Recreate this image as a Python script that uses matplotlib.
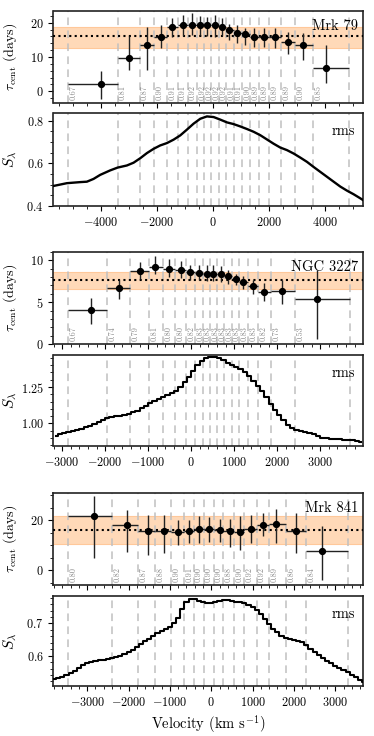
import numpy as np
import matplotlib
matplotlib.use("Agg")
import matplotlib.pyplot as plt
from matplotlib.ticker import AutoMinorLocator, MultipleLocator, FormatStrFormatter
import matplotlib.transforms as mtransforms

plt.rcParams['font.family'] = 'serif'
plt.rcParams['font.serif'] = ['cmr10']
plt.rcParams['mathtext.fontset'] = 'cm'
plt.rcParams['axes.formatter.use_mathtext'] = True
plt.rcParams['axes.unicode_minus'] = True

# ---------------- Mrk 79 ----------------
mrk79_edges = [-5167, -3393, -2607, -2083, -1631, -1250, -893, -560, -298, -48, 214,
               476, 750, 1048, 1345, 1655, 2012, 2452, 2929, 3571, 4869]
mrk79_vel = [-4000, -2976, -2333, -1857, -1440, -1071, -738, -464, -202, 71, 321,
             595, 869, 1167, 1488, 1821, 2238, 2679, 3226, 4060]
mrk79_lag = [2.1, 9.6, 13.6, 15.9, 18.7, 19.3, 19.4, 19.3, 19.3, 19.2, 18.7,
             17.8, 17.1, 16.6, 15.9, 15.9, 15.9, 14.3, 13.5, 6.8]
mrk79_elo = [4.3, 3.5, 7.5, 3.3, 3.0, 3.2, 3.0, 2.9, 3.2, 3.5, 2.6,
             2.9, 2.9, 3.2, 2.9, 2.9, 3.3, 3.4, 4.3, 4.4]
mrk79_ehi = [3.7, 6.5, 5.0, 3.4, 2.8, 2.9, 3.3, 2.6, 2.4, 3.0, 2.6,
             1.8, 2.2, 1.9, 2.5, 2.6, 2.6, 3.1, 3.4, 6.7]
mrk79_r = ['0.67', '0.81', '0.87', '0.90', '0.91', '0.91', '0.92', '0.92', '0.92', '0.92',
           '0.92', '0.91', '0.91', '0.90', '0.89', '0.89', '0.89', '0.89', '0.90', '0.85']
mrk79_mean, mrk79_band = 16.2, (12.6, 18.6)
mrk79_rms_v = [-5679, -5202, -4726, -4488, -4250, -4012, -3655, -3393, -3060, -2821,
               -2583, -2345, -2107, -1869, -1631, -1393, -1155, -917, -679, -440,
               -202, 36, 274, 512, 750, 988, 1226, 1464, 1702, 1940, 2179, 2417,
               2655, 2893, 3131, 3369, 3607, 3845, 4083, 4321, 4560, 4798, 5036, 5274, 5369]
mrk79_rms = [0.494, 0.507, 0.512, 0.514, 0.527, 0.546, 0.567, 0.580, 0.590, 0.603,
             0.624, 0.648, 0.668, 0.684, 0.695, 0.711, 0.731, 0.758, 0.786, 0.809,
             0.820, 0.817, 0.805, 0.792, 0.784, 0.773, 0.761, 0.748, 0.732, 0.712,
             0.692, 0.674, 0.662, 0.646, 0.627, 0.607, 0.583, 0.560, 0.537, 0.514,
             0.491, 0.472, 0.455, 0.436, 0.428]

# ---------------- NGC 3227 ----------------
ngc_edges = [-2867, -1958, -1414, -971, -653, -373, -124, 85, 264, 435, 598, 769,
             940, 1119, 1321, 1554, 1865, 2409, 3683]
ngc_vel = [-2331, -1686, -1181, -831, -505, -241, -16, 179, 357, 513, 684, 855,
           1033, 1212, 1445, 1694, 2106, 2937]
ngc_lag = [4.05, 6.67, 8.73, 9.2, 9.0, 8.8, 8.57, 8.5, 8.41, 8.41, 8.33, 8.1,
           7.78, 7.46, 6.9, 6.23, 6.3, 5.4]
ngc_elo = [1.6, 1.23, 0.95, 0.8, 1.0, 0.9, 0.87, 0.9, 0.87, 0.87, 0.93, 0.9,
           0.78, 0.86, 0.9, 1.03, 1.5, 4.84]
ngc_ehi = [1.5, 1.03, 1.11, 1.28, 1.2, 1.1, 0.93, 1.0, 0.99, 0.99, 0.97, 0.8,
           0.62, 0.64, 0.7, 1.07, 1.4, 3.4]
ngc_r = ['0.67', '0.74', '0.79', '0.81', '0.80', '0.80', '0.82', '0.83', '0.83', '0.83',
         '0.83', '0.83', '0.83', '0.83', '0.83', '0.82', '0.73', '0.53']
ngc_mean, ngc_band = 7.62, (6.59, 8.61)
ngc_rms_v0, ngc_rms_dv = -3150, 100
ngc_rms = [0.912, 0.925, 0.935, 0.942, 0.950, 0.958, 0.965, 0.975, 0.985, 0.997,
           1.010, 1.025, 1.038, 1.045, 1.048, 1.052, 1.056, 1.066, 1.077, 1.088,
           1.103, 1.120, 1.137, 1.152, 1.167, 1.183, 1.197, 1.210, 1.225, 1.248,
           1.282, 1.318, 1.360, 1.398, 1.428, 1.446, 1.455, 1.457, 1.450, 1.435,
           1.418, 1.404, 1.390, 1.372, 1.355, 1.328, 1.294, 1.257, 1.220, 1.180,
           1.136, 1.094, 1.060, 1.022, 0.990, 0.970, 0.958, 0.950, 0.944, 0.935,
           0.925, 0.912, 0.903, 0.899, 0.896, 0.893, 0.890, 0.888, 0.886, 0.884,
           0.880, 0.870]

# ---------------- Mrk 841 ----------------
m841_edges = [-3470, -2391, -1763, -1353, -974, -668, -427, -185, 56, 290, 548,
              797, 1095, 1409, 1812, 2303, 3317]
m841_vel = [-2826, -2045, -1538, -1151, -813, -539, -298, -48, 209, 451, 692,
            950, 1240, 1578, 2045, 2689]
m841_lag = [21.9, 18.3, 15.8, 15.6, 15.3, 15.6, 16.5, 16.5, 16.2, 15.8, 15.4,
            16.5, 18.3, 18.4, 15.8, 7.9]
m841_elo = [17.1, 10.8, 9.6, 8.8, 5.1, 4.7, 5.4, 5.0, 4.7, 6.3, 7.2, 5.6, 4.7, 7.5, 9.0, 11.8]
m841_ehi = [8.0, 5.7, 6.5, 6.7, 5.0, 4.7, 5.1, 4.8, 4.5, 4.9, 6.2, 5.8, 4.7, 6.3, 7.2, 10.0]
m841_r = ['0.80', '0.82', '0.87', '0.88', '0.90', '0.91', '0.90', '0.90', '0.90', '0.88',
          '0.90', '0.92', '0.92', '0.89', '0.86', '0.84']
m841_mean, m841_band = 16.2, (10.5, 21.6)
m841_rms_v0, m841_rms_dv = -3800, 100
m841_rms = [0.527, 0.531, 0.535, 0.540, 0.547, 0.554, 0.562, 0.570, 0.577, 0.581,
            0.584, 0.586, 0.588, 0.590, 0.594, 0.597, 0.600, 0.604, 0.610, 0.619,
            0.628, 0.637, 0.645, 0.653, 0.662, 0.670, 0.677, 0.683, 0.690, 0.702,
            0.718, 0.745, 0.765, 0.777, 0.776, 0.771, 0.766, 0.762, 0.763, 0.767,
            0.771, 0.774, 0.774, 0.771, 0.767, 0.765, 0.762, 0.758, 0.752, 0.741,
            0.728, 0.714, 0.698, 0.684, 0.672, 0.662, 0.655, 0.651, 0.649, 0.647,
            0.642, 0.633, 0.622, 0.611, 0.602, 0.593, 0.585, 0.577, 0.569, 0.562,
            0.555, 0.548, 0.541, 0.534, 0.526, 0.519]

objects = [
    dict(name='Mrk 79', edges=mrk79_edges, vel=mrk79_vel, lag=mrk79_lag, elo=mrk79_elo,
         ehi=mrk79_ehi, r=mrk79_r, mean=mrk79_mean, band=mrk79_band,
         rv=np.array(mrk79_rms_v), rf=np.array(mrk79_rms), step=False,
         xlim=(-5680, 5370), ylim_lag=(-3.4, 23.4), lag_major=10, ylim_rms=(0.4, 0.836),
         rms_major=0.2, rms_fmt='%.1f', xmajor=2000),
    dict(name='NGC 3227', edges=ngc_edges, vel=ngc_vel, lag=ngc_lag, elo=ngc_elo,
         ehi=ngc_ehi, r=ngc_r, mean=ngc_mean, band=ngc_band,
         rv=ngc_rms_v0 + ngc_rms_dv * np.arange(len(ngc_rms)), rf=np.array(ngc_rms), step=True,
         xlim=(-3200, 3995), ylim_lag=(0, 11.0), lag_major=5, ylim_rms=(0.845, 1.47),
         rms_major=0.25, rms_fmt='%.2f', xmajor=1000),
    dict(name='Mrk 841', edges=m841_edges, vel=m841_vel, lag=m841_lag, elo=m841_elo,
         ehi=m841_ehi, r=m841_r, mean=m841_mean, band=m841_band,
         rv=m841_rms_v0 + m841_rms_dv * np.arange(len(m841_rms)), rf=np.array(m841_rms), step=True,
         xlim=(-3816, 3671), ylim_lag=(-5.9, 31.0), lag_major=20, ylim_rms=(0.506, 0.785),
         rms_major=0.1, rms_fmt='%.1f', xmajor=1000),
]

W, H = 374, 736
fig = plt.figure(figsize=(W / 100, H / 100), dpi=100)
left, right = 53.5, 363
# (top, bottom) pixel rows for each panel
panel_px = [(11, 103), (113, 206), (252, 344), (355, 446), (493, 585), (596, 686)]

def add_ax(top, bot):
    return fig.add_axes([left / W, 1 - bot / H, (right - left) / W, (bot - top) / H])

band_col = '#ffd9b8'
line_col = '#c0c0c0'
TICK = 8.8
for i, o in enumerate(objects):
    axl = add_ax(*panel_px[2 * i])
    axr = add_ax(*panel_px[2 * i + 1])
    edges = np.array(o['edges'])
    vel = np.array(o['vel'])
    lag = np.array(o['lag'])
    bin_lo = edges[:-1]
    bin_hi = edges[1:]
    for ax in (axl, axr):
        for e in edges:
            ax.axvline(e, color=line_col, ls=(0, (5, 3.5)), lw=1.1, zorder=1)
    axl.axhspan(o['band'][0], o['band'][1], color=band_col, zorder=0, lw=0.8, ec='#ffc89a')
    axl.axhline(o['mean'], color='k', ls=(0, (1, 1.6)), lw=1.5, zorder=3)
    axl.errorbar(vel, lag, yerr=[o['elo'], o['ehi']], xerr=[vel - bin_lo, bin_hi - vel],
                 fmt='o', color='k', ms=4.2, elinewidth=1.0, capsize=0, zorder=4,
                 ecolor='#222222')
    trans = mtransforms.blended_transform_factory(axl.transData, axl.transAxes)
    for e, rr in zip(edges[:-1], o['r']):
        axl.annotate(rr, xy=(e, 0.03), xycoords=trans, xytext=(0.8, 0), textcoords='offset points',
                     rotation=90, ha='left', va='bottom', fontsize=6, color='#8c8c8c', zorder=2)
    axl.text(0.985, 0.83, o['name'], transform=axl.transAxes, ha='right', va='center',
             fontsize=10.5, zorder=5)
    axl.set_xlim(*o['xlim'])
    axl.set_ylim(*o['ylim_lag'])
    axl.yaxis.set_major_locator(MultipleLocator(o['lag_major']))
    axl.set_xticklabels([])
    axl.set_ylabel(r'$\tau_{\rm cent}$ (days)', fontsize=10)

    if o['step']:
        axr.step(o['rv'], o['rf'], where='mid', color='k', lw=1.5, zorder=3)
    else:
        axr.plot(o['rv'], o['rf'], color='k', lw=1.7, zorder=3)
    axr.text(0.975, 0.8, 'rms', transform=axr.transAxes, ha='right', va='center',
             fontsize=10.5, zorder=5)
    axr.set_xlim(*o['xlim'])
    axr.set_ylim(*o['ylim_rms'])
    axr.yaxis.set_major_locator(MultipleLocator(o['rms_major']))
    axr.yaxis.set_major_formatter(FormatStrFormatter('$' + o['rms_fmt'] + '$'))
    axr.set_ylabel(r'$S_\lambda$', fontsize=11)

    for ax in (axl, axr):
        ax.xaxis.set_major_locator(MultipleLocator(o['xmajor']))
        ax.xaxis.set_minor_locator(AutoMinorLocator())
        ax.yaxis.set_minor_locator(AutoMinorLocator())
        ax.tick_params(which='both', direction='out', labelsize=TICK, top=False, right=False)
        ax.tick_params(which='major', length=3.5, width=0.8)
        ax.tick_params(which='minor', length=2, width=0.6)
        for s in ax.spines.values():
            s.set_linewidth(1.2)
            s.set_color('#222222')
        ax.yaxis.set_label_coords(-0.112, 0.5)
    if i == 2:
        axr.set_xlabel(r'Velocity (km s$^{-1}$)', fontsize=10.5, labelpad=3)

fig.savefig('out.png', dpi=100)
